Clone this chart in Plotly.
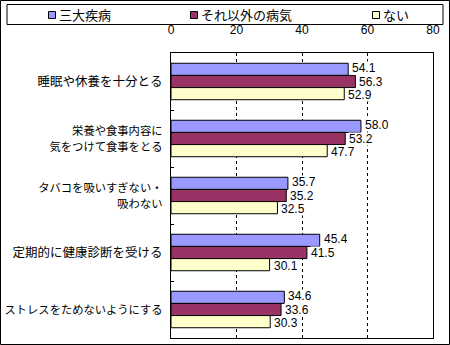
import plotly.graph_objects as go

categories = ["睡眠や休養を十分とる", "栄養や食事内容に<br>気をつけて食事をとる",
              "タバコを吸いすぎない・<br>吸わない", "定期的に健康診断を受ける",
              "ストレスをためないようにする"]
series_names = ["三大疾病", "それ以外の病気", "ない"]
s1 = [54.1, 58.0, 35.7, 45.4, 34.6]
s2 = [56.3, 53.2, 35.2, 41.5, 33.6]
s3 = [52.9, 47.7, 32.5, 30.1, 30.3]
colors = ["#9999FF", "#993366", "#FFFFCC"]
x_ticks = [0, 20, 40, 60, 80]

W, H = 450, 345
L, R, T, B = 171, 433, 53, 338
FONT = "Liberation Sans, Noto Sans CJK JP, sans-serif"

def px(x):
    return (x - L) / (R - L)

def py(y):
    return (B - y) / (B - T)

# long labels get a slightly smaller size so they fit like the original's proportional font
tick_text = [c if len(c) <= 12 else f'<span style="font-size:11.3px">{c}</span>' for c in categories]

fig = go.Figure()
series = [s1, s2, s3]
for name, vals, col in zip(series_names, series, colors):
    fig.add_trace(go.Bar(y=categories, x=vals, name=name, orientation="h",
                         marker=dict(color=col, line=dict(color="black", width=1)),
                         showlegend=False, hoverinfo="skip"))

bargap = 0.36
band = (B - T) / len(categories)
bar_h = band * (1 - bargap) / 3
annotations = []
for i, vals in enumerate(series):
    for c, v in zip(categories, vals):
        annotations.append(dict(x=v, y=c, xref="x", yref="y", text=f"{v:.1f}",
                                showarrow=False, xanchor="left", yanchor="middle",
                                xshift=3, yshift=-(i - 1) * bar_h * 1.1,
                                bgcolor="white", borderpad=0, height=12,
                                font=dict(size=12, color="black", family=FONT)))

shapes = []
# outer border
shapes.append(dict(type="rect", xref="paper", yref="paper",
                   x0=px(0.5), x1=px(W - 0.5), y0=py(0.5), y1=py(H - 0.5),
                   line=dict(color="black", width=1), fillcolor="rgba(0,0,0,0)", layer="above"))
# legend box
shapes.append(dict(type="rect", xref="paper", yref="paper",
                   x0=px(7), x1=px(443), y0=py(4.5), y1=py(24.5),
                   line=dict(color="black", width=1), fillcolor="white"))
leg_x = [48, 190, 372]
for lx, name, col in zip(leg_x, series_names, colors):
    shapes.append(dict(type="rect", xref="paper", yref="paper",
                       x0=px(lx + 0.5), x1=px(lx + 7.5), y0=py(11.5), y1=py(18.5),
                       line=dict(color="black", width=1), fillcolor=col))
    annotations.append(dict(x=px(lx + 9), y=py(15), xref="paper", yref="paper",
                            text=name, showarrow=False, xanchor="left", yanchor="middle",
                            font=dict(size=13, color="black", family=FONT)))

fig.update_layout(
    width=W, height=H,
    margin=dict(l=L, r=W - R, t=T, b=H - B, pad=0, autoexpand=False),
    paper_bgcolor="white", plot_bgcolor="white",
    barmode="group", bargap=bargap, bargroupgap=0,
    font=dict(family=FONT, size=12, color="black"),
    showlegend=False,
    annotations=annotations, shapes=shapes,
    xaxis=dict(side="top", range=[0, 80], tickvals=x_ticks, ticks="",
               showgrid=True, gridcolor="black", griddash="3px,3px", gridwidth=1,
               zeroline=False, showline=True, linecolor="black", linewidth=1, mirror=True,
               ticklabelstandoff=13, tickfont=dict(size=12), automargin=False),
    yaxis=dict(autorange="reversed", tickson="boundaries", ticks="inside", ticklen=3,
               tickcolor="black", showgrid=False, zeroline=False,
               showline=True, linecolor="black", linewidth=1, mirror=True,
               tickmode="array", tickvals=categories, ticktext=tick_text,
               ticklabelstandoff=5, tickfont=dict(size=12.5), automargin=False),
)

fig.write_html("out.html")
